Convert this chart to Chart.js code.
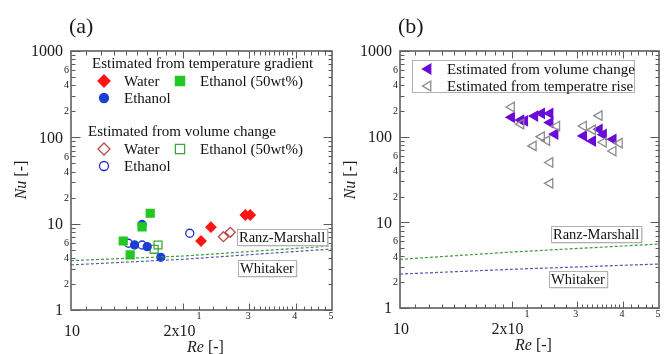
<!DOCTYPE html>
<html>
<head>
<meta charset="utf-8">
<script src="https://cdn.jsdelivr.net/npm/chart.js@4.4.1/dist/chart.umd.min.js"></script>
<style>
  body { margin: 0; background: #fff; width: 667px; height: 354px; position: relative; overflow: hidden; }
  canvas { position: absolute; top: 0; }
  #chartA { left: 0; }
  #chartB { left: 333px; }
</style>
</head>
<body>
<canvas id="chartA" width="340" height="354"></canvas>
<canvas id="chartB" width="334" height="354"></canvas>
<script>
'use strict'

// (a) estimated from temperature gradient
let waterGradRe = [22.3, 23.7, 29.3, 30.2];
let waterGradNu = [6.3, 9.1, 12.6, 12.6];
let ethGradRe = [15.5, 14.8, 16.0, 17.4];
let ethGradNu = [9.8, 5.66, 5.42, 4.08];
let eth50GradRe = [16.3, 15.5, 13.8, 14.4];
let eth50GradNu = [13.2, 9.2, 6.3, 4.34];

// (a) estimated from volume change
let waterVolRe = [25.6, 26.7];
let waterVolNu = [7.07, 7.94];
let ethVolRe = [14.25, 15.5, 20.8];
let ethVolNu = [5.93, 5.66, 7.74];
let eth50VolRe = [17.1, 16.7];
let eth50VolNu = [5.66, 5.05];

// (b) volume change / temperature rise
let volRe = [20.0, 21.2, 21.7, 23.1, 24.1, 25.4, 25.4, 26.2, 31.3, 33.1, 34.5, 35.4, 37.6];
let volNu = [168, 156, 153, 174, 187, 187, 146, 107, 102, 89, 122, 106, 93];
let riseRe = [20.0, 21.2, 26.5, 24.1, 24.9, 22.9, 25.4, 25.4, 34.5, 31.3, 33.1, 35.4, 39.1, 37.6];
let riseNu = [222, 140, 133, 100, 90, 78, 50, 28.5, 176, 133, 120, 86, 84, 68];

// correlation curves
let corrRe = [10, 20, 50];
let ranzNuA = [3.73, 4.22, 5.52];
let whitNuA = [3.33, 3.87, 5.09];
let ranzNuB = [3.7, 4.5, 5.58];
let whitNuB = [2.49, 2.83, 3.26];

// axis ticks
let nuMajor = [1, 10, 100, 1000];
let nuMajorText = ['1', '10', '100', '1000'];
let nuMinorText = ['2', '4', '6'];
let reBigTicks = [10, 20];
let reBigText = ['10', '2x10'];
let reSupText = ['', '1'];
let reSmallTicks = [30, 40, 50];
let reSmallText = ['3', '4', '5'];
let reMajor = [20, 30, 40];
let reMinor = [11, 12, 13, 14, 15, 16, 17, 18, 19, 22, 24, 26, 28,
  31, 32, 33, 34, 35, 36, 37, 38, 39, 42, 44, 46, 48];

const SERIF = '"Liberation Serif", "Times New Roman", serif';

function pts(xs, ys) {
  return xs.map((x, i) => ({x: x, y: ys[i]}));
}

function marker(label, xs, ys, style, r, fill, stroke, rot) {
  return {
    label: label,
    data: pts(xs, ys),
    pointStyle: style,
    pointRadius: r,
    pointHoverRadius: r,
    pointRotation: rot || 0,
    pointBackgroundColor: fill,
    pointBorderColor: stroke,
    pointBorderWidth: 1.3,
    showLine: false
  };
}

function dashed(label, ys, color) {
  return {
    label: label,
    data: pts(corrRe, ys),
    showLine: true,
    borderColor: color,
    borderWidth: 1.2,
    borderDash: [3, 2],
    pointRadius: 0,
    fill: false
  };
}

// same shapes as chart.js point styles, for the hand drawn legends
function drawMark(ctx, style, x, y, r, fill, stroke) {
  ctx.save();
  ctx.beginPath();
  if (style === 'rectRot') {
    ctx.moveTo(x, y - r); ctx.lineTo(x + r, y); ctx.lineTo(x, y + r); ctx.lineTo(x - r, y);
    ctx.closePath();
  } else if (style === 'rect') {
    let s = r * Math.SQRT1_2;
    ctx.rect(x - s, y - s, 2 * s, 2 * s);
  } else if (style === 'circle') {
    ctx.arc(x, y, r, 0, Math.PI * 2);
  } else if (style === 'triLeft') {
    ctx.moveTo(x - r, y);
    ctx.lineTo(x + r / 2, y - r * 0.866);
    ctx.lineTo(x + r / 2, y + r * 0.866);
    ctx.closePath();
  }
  ctx.fillStyle = fill;
  ctx.fill();
  ctx.lineWidth = 1.3;
  ctx.strokeStyle = stroke;
  ctx.stroke();
  ctx.restore();
}

function labelBox(ctx, text, x, y) {
  ctx.save();
  ctx.font = '14.5px ' + SERIF;
  let w = ctx.measureText(text).width + 4;
  let h = 16;
  ctx.fillStyle = '#d4d4d4';
  ctx.fillRect(x + 1.5, y + 1.5, w, h);
  ctx.fillStyle = '#fff';
  ctx.fillRect(x, y, w, h);
  ctx.strokeStyle = '#b0b0b0';
  ctx.lineWidth = 1;
  ctx.strokeRect(x + 0.5, y + 0.5, w, h);
  ctx.fillStyle = '#111';
  ctx.textBaseline = 'middle';
  ctx.fillText(text, x + 2, y + h / 2 + 1);
  ctx.restore();
}

function mixedText(ctx, parts, x, y, align) {
  // parts: [[text, font], ...]
  let total = 0;
  parts.forEach(p => { ctx.font = p[1]; total += ctx.measureText(p[0]).width; });
  let sx = align === 'center' ? x - total / 2 : x;
  ctx.textAlign = 'left';
  parts.forEach(p => {
    ctx.font = p[1];
    ctx.fillText(p[0], sx, y);
    sx += ctx.measureText(p[0]).width;
  });
}

function drawAxes(chart, panelText) {
  let ctx = chart.ctx;
  let a = chart.chartArea;
  let xs = chart.scales.x;
  let ys = chart.scales.y;
  ctx.save();
  ctx.strokeStyle = '#5a5a5a';
  ctx.lineWidth = 1;

  function tick(x1, y1, x2, y2) {
    ctx.beginPath();
    ctx.moveTo(Math.round(x1) + 0.5, Math.round(y1) + 0.5);
    ctx.lineTo(Math.round(x2) + 0.5, Math.round(y2) + 0.5);
    ctx.stroke();
  }

  // Nu ticks on left and right
  for (let d = 0; d < 3; d++) {
    let base = nuMajor[d];
    for (let m = 2; m <= 9; m++) {
      let py = ys.getPixelForValue(base * m);
      tick(a.left, py, a.left + 4, py);
      tick(a.right - 4, py, a.right, py);
    }
  }
  nuMajor.forEach(v => {
    let py = ys.getPixelForValue(v);
    tick(a.left, py, a.left + 9, py);
    tick(a.right - 9, py, a.right, py);
  });

  // Re ticks on bottom and top
  reMinor.forEach(v => {
    let px = xs.getPixelForValue(v);
    tick(px, a.bottom, px, a.bottom - 4);
    tick(px, a.top, px, a.top + 4);
  });
  reMajor.forEach(v => {
    let px = xs.getPixelForValue(v);
    tick(px, a.bottom, px, a.bottom - 7);
    tick(px, a.top, px, a.top + 7);
  });

  // frame
  ctx.lineWidth = 1.6;
  ctx.strokeStyle = '#606060';
  ctx.strokeRect(a.left, a.top, a.right - a.left, a.bottom - a.top);

  // Nu labels
  ctx.fillStyle = '#1a1a1a';
  ctx.textBaseline = 'middle';
  ctx.textAlign = 'right';
  ctx.font = '16px ' + SERIF;
  nuMajor.forEach((v, i) => {
    ctx.fillText(nuMajorText[i], a.left - 8, ys.getPixelForValue(v) + 1);
  });
  ctx.font = '10px ' + SERIF;
  for (let d = 0; d < 3; d++) {
    nuMinorText.forEach(t => {
      ctx.fillText(t, a.left - 2, ys.getPixelForValue(nuMajor[d] * Number(t)) + 0.5);
    });
  }

  // Re labels
  ctx.font = '16px ' + SERIF;
  reBigTicks.forEach((v, i) => {
    let px = xs.getPixelForValue(v);
    if (reSupText[i]) {
      ctx.textAlign = 'right';
      ctx.fillText(reBigText[i], px + 12, a.bottom + 22);
      ctx.font = '10px ' + SERIF;
      ctx.textAlign = 'left';
      ctx.fillText(reSupText[i], px + 13, a.bottom + 6);
      ctx.font = '16px ' + SERIF;
    } else {
      ctx.textAlign = 'center';
      ctx.fillText(reBigText[i], px + 1, a.bottom + 22);
    }
  });
  ctx.font = '10px ' + SERIF;
  ctx.textAlign = 'center';
  reSmallTicks.forEach((v, i) => {
    ctx.fillText(reSmallText[i], xs.getPixelForValue(v) - 1, a.bottom + 6);
  });

  // axis titles
  let midX = (a.left + a.right) / 2;
  ctx.textBaseline = 'middle';
  mixedText(ctx, [['Re', 'italic 16px ' + SERIF], [' [-]', '16px ' + SERIF]],
    midX + 4, a.bottom + 38, 'center');
  ctx.save();
  ctx.translate(a.left - 49, 180);
  ctx.rotate(-Math.PI / 2);
  mixedText(ctx, [['Nu', 'italic 16px ' + SERIF], [' [-]', '16px ' + SERIF]], 0, 0, 'center');
  ctx.restore();

  // panel letter
  ctx.font = '22px ' + SERIF;
  ctx.textAlign = 'left';
  ctx.fillText(panelText, a.left - 2, 27);
  ctx.restore();
}

const panelA = {
  id: 'panelA',
  afterDatasetsDraw(chart) {
    let ctx = chart.ctx;
    labelBox(ctx, 'Ranz-Marshall', 237, 229);
    labelBox(ctx, 'Whitaker', 238, 260);
  },
  afterDraw(chart) {
    drawAxes(chart, '(a)');
    let ctx = chart.ctx;
    let a = chart.chartArea;
    let L = a.left, T = a.top;
    ctx.save();
    ctx.fillStyle = '#111';
    ctx.textBaseline = 'middle';
    ctx.textAlign = 'left';
    ctx.font = '15px ' + SERIF;
    ctx.fillText('Estimated from temperature gradient', L + 21, T + 13);
    drawMark(ctx, 'rectRot', L + 33, T + 30, 6, '#ff1414', '#ff1414');
    ctx.fillText('Water', L + 53, T + 31);
    drawMark(ctx, 'rect', L + 109, T + 30, 6.5, '#22c822', '#22c822');
    ctx.fillText('Ethanol (50wt%)', L + 129, T + 31);
    drawMark(ctx, 'circle', L + 33, T + 47, 4.5, '#1a3fd4', '#1a3fd4');
    ctx.fillText('Ethanol', L + 53, T + 48);

    ctx.fillText('Estimated from volume change', L + 17, T + 81);
    drawMark(ctx, 'rectRot', L + 33, T + 98, 6, '#fff', '#b84848');
    ctx.fillText('Water', L + 53, T + 99);
    drawMark(ctx, 'rect', L + 109, T + 98, 6.5, '#fff', '#3aa83a');
    ctx.fillText('Ethanol (50wt%)', L + 129, T + 99);
    drawMark(ctx, 'circle', L + 33, T + 115, 4.5, '#fff', '#2a2ad0');
    ctx.fillText('Ethanol', L + 53, T + 116);
    ctx.restore();
  }
};

const panelB = {
  id: 'panelB',
  afterDatasetsDraw(chart) {
    let ctx = chart.ctx;
    labelBox(ctx, 'Ranz-Marshall', 218, 226);
    labelBox(ctx, 'Whitaker', 216, 271);
  },
  afterDraw(chart) {
    drawAxes(chart, '(b)');
    let ctx = chart.ctx;
    let a = chart.chartArea;
    let L = a.left, T = a.top;
    ctx.save();
    ctx.fillStyle = '#fff';
    ctx.fillRect(L + 12, T + 9, 222, 32);
    ctx.strokeStyle = '#b0b0b0';
    ctx.lineWidth = 1;
    ctx.strokeRect(L + 12.5, T + 9.5, 222, 32);
    drawMark(ctx, 'triLeft', L + 28, T + 18, 5.5, '#6a0ad8', '#6a0ad8');
    drawMark(ctx, 'triLeft', L + 28, T + 35, 5.5, '#fff', '#8c8c8c');
    ctx.fillStyle = '#111';
    ctx.textBaseline = 'middle';
    ctx.font = '15px ' + SERIF;
    ctx.fillText('Estimated from volume change', L + 47, T + 19);
    ctx.fillText('Estimated from temperatre rise', L + 47, T + 36);
    ctx.restore();
  }
};

function logScales() {
  return {
    x: { type: 'logarithmic', min: 10, max: 50, display: false },
    y: { type: 'logarithmic', min: 1, max: 1000, display: false }
  };
}

function baseOptions(pad) {
  return {
    responsive: false,
    animation: false,
    events: [],
    layout: { padding: pad },
    scales: logScales(),
    plugins: { legend: { display: false }, tooltip: { enabled: false } }
  };
}

new Chart(document.getElementById('chartA'), {
  type: 'scatter',
  data: {
    datasets: [
      dashed('Ranz-Marshall', ranzNuA, '#3c9a3c'),
      dashed('Whitaker', whitNuA, '#5656b4'),
      marker('Ethanol (50wt%) grad', eth50GradRe, eth50GradNu, 'rect', 5.6, '#22c822', '#22c822'),
      marker('Ethanol grad', ethGradRe, ethGradNu, 'circle', 4, '#1a3fd4', '#1a3fd4'),
      marker('Water grad', waterGradRe, waterGradNu, 'rectRot', 5, '#ff1414', '#ff1414'),
      marker('Water vol', waterVolRe, waterVolNu, 'rectRot', 5, '#fff', '#b84848'),
      marker('Ethanol (50wt%) vol', eth50VolRe, eth50VolNu, 'rect', 5.6, 'rgba(255,255,255,0)', '#3aa83a'),
      marker('Ethanol vol', ethVolRe, ethVolNu, 'circle', 4, 'rgba(255,255,255,0)', '#2a2ad0')
    ]
  },
  options: baseOptions({ left: 71, right: 8, top: 51, bottom: 44 }),
  plugins: [panelA]
});

new Chart(document.getElementById('chartB'), {
  type: 'scatter',
  data: {
    datasets: [
      dashed('Ranz-Marshall', ranzNuB, '#3c9a3c'),
      dashed('Whitaker', whitNuB, '#5656b4'),
      marker('Estimated from temperatre rise', riseRe, riseNu, 'triangle', 5.5, 'rgba(255,255,255,0)', '#8c8c8c', -90),
      marker('Estimated from volume change', volRe, volNu, 'triangle', 5.5, '#6a0ad8', '#6a0ad8', -90)
    ]
  },
  options: baseOptions({ left: 67, right: 8, top: 51, bottom: 46 }),
  plugins: [panelB]
});
</script>
</body>
</html>
